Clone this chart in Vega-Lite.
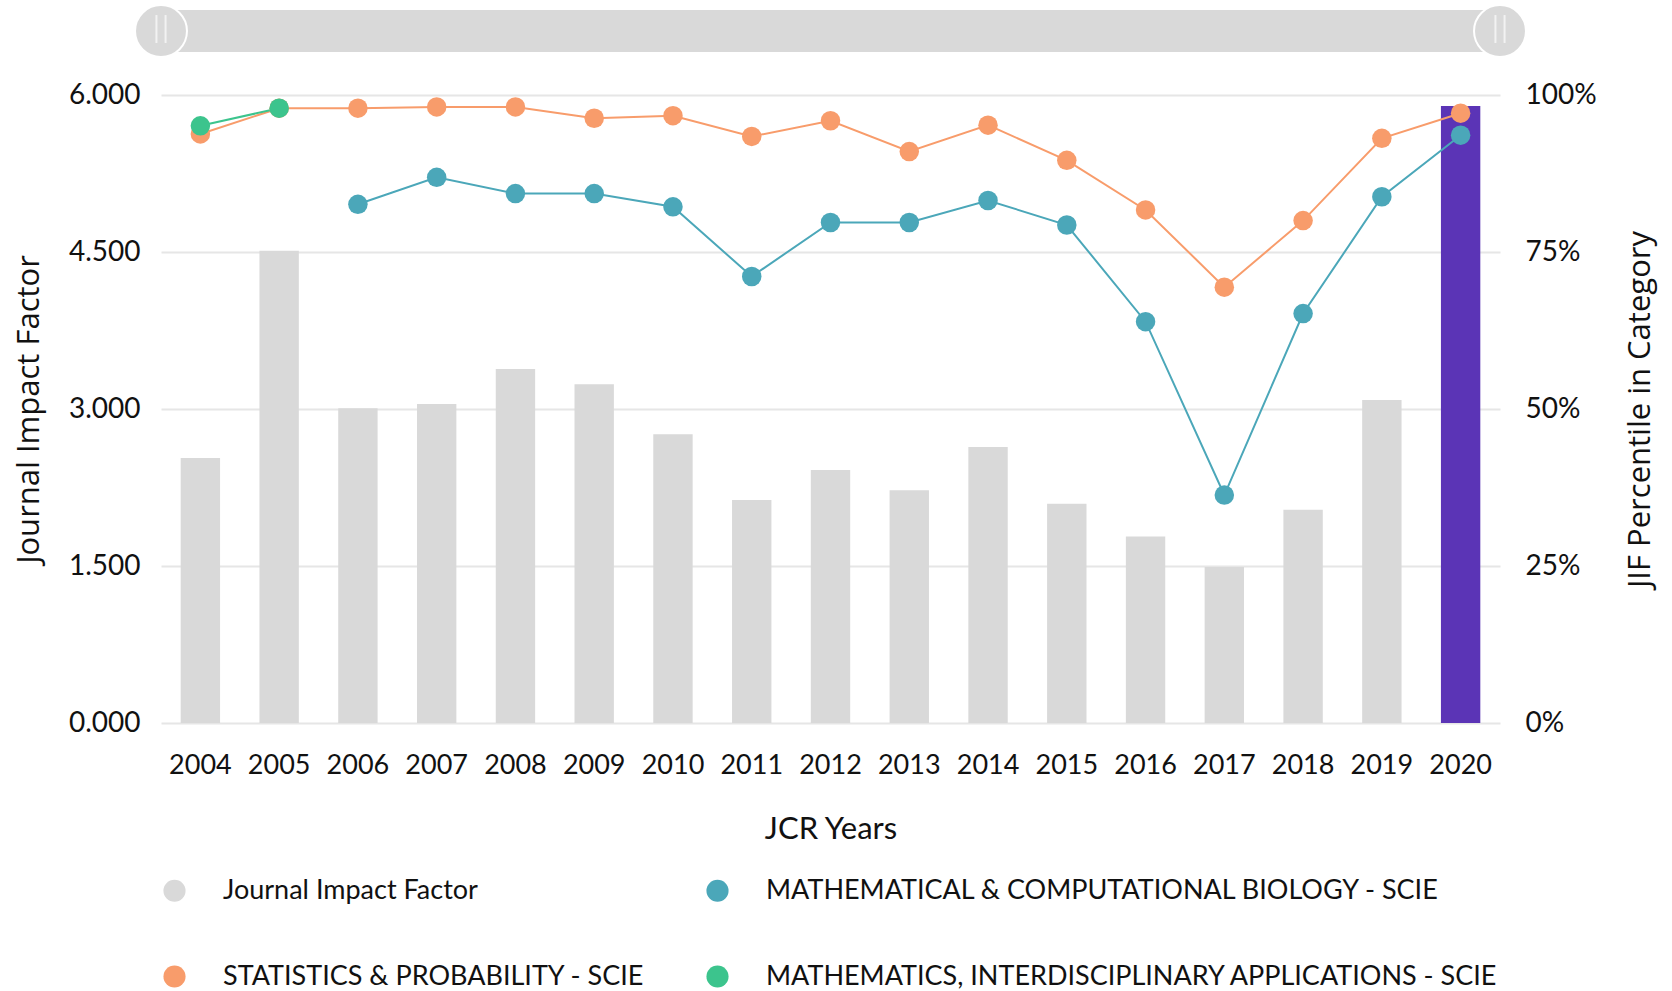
{
  "$schema": "https://vega.github.io/schema/vega-lite/v6.json",
  "width": 1339,
  "height": 628,
  "autosize": {"type": "none"},
  "padding": {"left": 161, "top": 95, "right": 172, "bottom": 268},
  "background": "white",
  "config": {
    "view": {"stroke": null},
    "axis": {"labelFont": "Lato", "labelColor": "#111", "titleColor": "#111", "titleFontWeight": "normal"},
    "legend": {
      "labelFont": "Lato",
      "labelFontSize": 27,
      "labelColor": "#111",
      "labelLimit": 800
    }
  },
  "datasets": {
    "jif": [
      {"year": "2004", "jif": 2.532, "series": "Journal Impact Factor"},
      {"year": "2005", "jif": 4.512, "series": "Journal Impact Factor"},
      {"year": "2006", "jif": 3.006, "series": "Journal Impact Factor"},
      {"year": "2007", "jif": 3.048, "series": "Journal Impact Factor"},
      {"year": "2008", "jif": 3.382, "series": "Journal Impact Factor"},
      {"year": "2009", "jif": 3.236, "series": "Journal Impact Factor"},
      {"year": "2010", "jif": 2.758, "series": "Journal Impact Factor"},
      {"year": "2011", "jif": 2.13, "series": "Journal Impact Factor"},
      {"year": "2012", "jif": 2.417, "series": "Journal Impact Factor"},
      {"year": "2013", "jif": 2.223, "series": "Journal Impact Factor"},
      {"year": "2014", "jif": 2.637, "series": "Journal Impact Factor"},
      {"year": "2015", "jif": 2.095, "series": "Journal Impact Factor"},
      {"year": "2016", "jif": 1.783, "series": "Journal Impact Factor"},
      {"year": "2017", "jif": 1.49, "series": "Journal Impact Factor"},
      {"year": "2018", "jif": 2.038, "series": "Journal Impact Factor"},
      {"year": "2019", "jif": 3.086, "series": "Journal Impact Factor"},
      {"year": "2020", "jif": 5.895, "series": "Journal Impact Factor"}
    ],
    "pct": [
      {"year": "2006", "pct": 82.6, "series": "MATHEMATICAL & COMPUTATIONAL BIOLOGY - SCIE"},
      {"year": "2007", "pct": 86.9, "series": "MATHEMATICAL & COMPUTATIONAL BIOLOGY - SCIE"},
      {"year": "2008", "pct": 84.3, "series": "MATHEMATICAL & COMPUTATIONAL BIOLOGY - SCIE"},
      {"year": "2009", "pct": 84.3, "series": "MATHEMATICAL & COMPUTATIONAL BIOLOGY - SCIE"},
      {"year": "2010", "pct": 82.2, "series": "MATHEMATICAL & COMPUTATIONAL BIOLOGY - SCIE"},
      {"year": "2011", "pct": 71.1, "series": "MATHEMATICAL & COMPUTATIONAL BIOLOGY - SCIE"},
      {"year": "2012", "pct": 79.7, "series": "MATHEMATICAL & COMPUTATIONAL BIOLOGY - SCIE"},
      {"year": "2013", "pct": 79.7, "series": "MATHEMATICAL & COMPUTATIONAL BIOLOGY - SCIE"},
      {"year": "2014", "pct": 83.2, "series": "MATHEMATICAL & COMPUTATIONAL BIOLOGY - SCIE"},
      {"year": "2015", "pct": 79.3, "series": "MATHEMATICAL & COMPUTATIONAL BIOLOGY - SCIE"},
      {"year": "2016", "pct": 63.9, "series": "MATHEMATICAL & COMPUTATIONAL BIOLOGY - SCIE"},
      {"year": "2017", "pct": 36.3, "series": "MATHEMATICAL & COMPUTATIONAL BIOLOGY - SCIE"},
      {"year": "2018", "pct": 65.2, "series": "MATHEMATICAL & COMPUTATIONAL BIOLOGY - SCIE"},
      {"year": "2019", "pct": 83.8, "series": "MATHEMATICAL & COMPUTATIONAL BIOLOGY - SCIE"},
      {"year": "2020", "pct": 93.6, "series": "MATHEMATICAL & COMPUTATIONAL BIOLOGY - SCIE"},
      {"year": "2004", "pct": 93.8, "series": "STATISTICS & PROBABILITY - SCIE"},
      {"year": "2005", "pct": 97.9, "series": "STATISTICS & PROBABILITY - SCIE"},
      {"year": "2006", "pct": 97.9, "series": "STATISTICS & PROBABILITY - SCIE"},
      {"year": "2007", "pct": 98.1, "series": "STATISTICS & PROBABILITY - SCIE"},
      {"year": "2008", "pct": 98.1, "series": "STATISTICS & PROBABILITY - SCIE"},
      {"year": "2009", "pct": 96.3, "series": "STATISTICS & PROBABILITY - SCIE"},
      {"year": "2010", "pct": 96.7, "series": "STATISTICS & PROBABILITY - SCIE"},
      {"year": "2011", "pct": 93.4, "series": "STATISTICS & PROBABILITY - SCIE"},
      {"year": "2012", "pct": 95.9, "series": "STATISTICS & PROBABILITY - SCIE"},
      {"year": "2013", "pct": 91.0, "series": "STATISTICS & PROBABILITY - SCIE"},
      {"year": "2014", "pct": 95.2, "series": "STATISTICS & PROBABILITY - SCIE"},
      {"year": "2015", "pct": 89.6, "series": "STATISTICS & PROBABILITY - SCIE"},
      {"year": "2016", "pct": 81.7, "series": "STATISTICS & PROBABILITY - SCIE"},
      {"year": "2017", "pct": 69.4, "series": "STATISTICS & PROBABILITY - SCIE"},
      {"year": "2018", "pct": 80.0, "series": "STATISTICS & PROBABILITY - SCIE"},
      {"year": "2019", "pct": 93.1, "series": "STATISTICS & PROBABILITY - SCIE"},
      {"year": "2020", "pct": 97.1, "series": "STATISTICS & PROBABILITY - SCIE"},
      {"year": "2004", "pct": 95.1, "series": "MATHEMATICS, INTERDISCIPLINARY APPLICATIONS - SCIE"},
      {"year": "2005", "pct": 97.9, "series": "MATHEMATICS, INTERDISCIPLINARY APPLICATIONS - SCIE"}
    ],
    "sliderBar": [{"p0": 0, "p1": 1, "level": 6.611}],
    "handles": [{"pos": 0, "level": 6.611}, {"pos": 1, "level": 6.611}],
    "grips": [
      {"pos": -0.0034, "y1": 6.497, "y2": 6.764},
      {"pos": 0.0034, "y1": 6.497, "y2": 6.764},
      {"pos": 0.9966, "y1": 6.497, "y2": 6.764},
      {"pos": 1.0034, "y1": 6.497, "y2": 6.764}
    ]
  },
  "layer": [
    {
      "layer": [
        {
          "data": {"name": "jif"},
          "mark": {"type": "bar"},
          "encoding": {
            "x": {
              "field": "year", "type": "ordinal",
              "scale": {"paddingInner": 0.5, "paddingOuter": 0.25},
              "axis": {
                "title": "JCR Years", "labelAngle": 0, "ticks": false, "tickSize": 0, "domain": false,
                "labelFontSize": 27, "labelPadding": 29,
                "titleFont": "Lato", "titleFontSize": 31,
                "titleY": 106, "titleBaseline": "middle"
              }
            },
            "y": {
              "field": "jif", "type": "quantitative",
              "scale": {"domain": [0, 6]},
              "axis": {
                "title": "Journal Impact Factor", "orient": "left",
                "values": [0, 1.5, 3, 4.5, 6], "format": ".3f",
                "ticks": false, "tickSize": 0, "domain": false,
                "labelFontSize": 28, "labelPadding": 21,
                "grid": true, "gridColor": "#e6e6e6", "gridWidth": 2,
                "titleFont": "Open Sans", "titleFontSize": 31,
                "titleAngle": -90, "titleX": -132, "titleY": 314, "titleBaseline": "middle", "titleAlign": "center"
              }
            },
            "color": {
              "condition": {"test": "datum.year == '2020'", "value": "#5b34b6"},
              "field": "series", "type": "nominal",
              "scale": {
                "domain": ["Journal Impact Factor", "MATHEMATICAL & COMPUTATIONAL BIOLOGY - SCIE", "STATISTICS & PROBABILITY - SCIE", "MATHEMATICS, INTERDISCIPLINARY APPLICATIONS - SCIE"],
                "range": ["#d9d9d9", "#4ba7b9", "#f89c6b", "#3cc48d"]
              },
              "legend": {
                "title": null, "orient": "none", "legendX": 0, "legendY": 782,
                "direction": "horizontal", "columns": 2, "columnPadding": 59, "rowPadding": 58,
                "symbolType": "circle", "symbolSize": 490, "symbolStrokeWidth": 0, "symbolOpacity": 1,
                "labelOffset": 35, "padding": 0
              }
            }
          }
        },
        {
          "data": {"name": "pct"},
          "layer": [
            {
              "mark": {"type": "line", "strokeWidth": 2},
              "encoding": {
                "x": {"field": "year", "type": "ordinal"},
                "y": {
                  "field": "pct", "type": "quantitative", "scale": {"domain": [0, 100]},
                  "axis": {
                    "title": "JIF Percentile in Category", "orient": "right",
                    "values": [0, 25, 50, 75, 100], "labelExpr": "datum.value + '%'",
                    "ticks": false, "tickSize": 0, "domain": false, "grid": false,
                    "labelFontSize": 28, "labelPadding": 25,
                    "titleFont": "Open Sans", "titleFontSize": 31,
                    "titleAngle": -90, "titleX": 140, "titleY": 314, "titleBaseline": "middle", "titleAlign": "center"
                  }
                },
                "color": {"field": "series", "type": "nominal"},
                "detail": {"field": "series"}
              }
            },
            {
              "mark": {"type": "point", "filled": true, "opacity": 1, "size": 380},
              "encoding": {
                "x": {"field": "year", "type": "ordinal"},
                "y": {"field": "pct", "type": "quantitative"},
                "color": {"field": "series", "type": "nominal"}
              }
            }
          ]
        }
      ],
      "resolve": {"scale": {"y": "independent"}}
    },
    {
      "layer": [
        {
          "data": {"name": "sliderBar"},
          "mark": {"type": "rule", "strokeWidth": 42, "color": "#d9d9d9", "strokeCap": "butt"},
          "encoding": {
            "x": {"field": "p0", "type": "quantitative", "scale": {"domain": [0, 1]}, "axis": null},
            "x2": {"field": "p1"},
            "y": {"field": "level", "type": "quantitative", "scale": {"domain": [0, 6]}, "axis": null}
          }
        },
        {
          "data": {"name": "handles"},
          "mark": {"type": "point", "filled": true, "size": 2700, "color": "#d9d9d9", "stroke": "white", "strokeWidth": 2, "opacity": 1},
          "encoding": {
            "x": {"field": "pos", "type": "quantitative"},
            "y": {"field": "level", "type": "quantitative"}
          }
        },
        {
          "data": {"name": "grips"},
          "mark": {"type": "rule", "strokeWidth": 2, "color": "#f2f2f2"},
          "encoding": {
            "x": {"field": "pos", "type": "quantitative"},
            "y": {"field": "y1", "type": "quantitative"},
            "y2": {"field": "y2"}
          }
        }
      ]
    }
  ],
  "resolve": {"scale": {"x": "independent", "y": "independent"}}
}
